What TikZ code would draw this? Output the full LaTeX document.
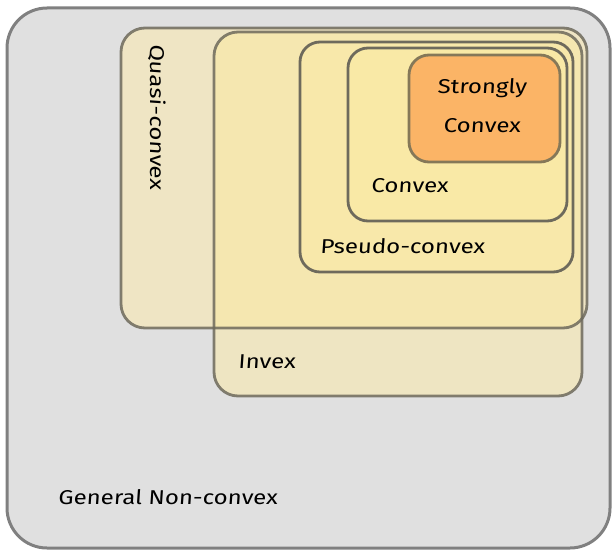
\documentclass[tikz,border=0pt]{standalone}
\usepackage{fontspec}
\setmainfont{Fira Sans}
\newfontfamily\handfont[FakeStretch=1.2, FakeSlant=0.07]{Fira Sans}
\definecolor{outerfill}{HTML}{E0E0E0}
\definecolor{outerline}{HTML}{808080}
\definecolor{quasifill}{HTML}{EFE5C4}
\definecolor{invexfill}{HTML}{EEE5C2}
\definecolor{overlapfill}{HTML}{F5E7B0}
\definecolor{pseudofill}{HTML}{F8E8AA}
\definecolor{convexfill}{HTML}{F9E9A6}
\definecolor{strongfill}{HTML}{FBB466}
\definecolor{boxline}{HTML}{6E6A5C}
\definecolor{strongline}{HTML}{857858}
\tikzset{
  setbox/.style={draw=boxline, line width=2.8pt},
  lbl/.style={font=\handfont\fontsize{20}{24}\selectfont, text=black, inner sep=0pt},
}
\begin{document}
\begin{tikzpicture}[x=1pt,y=-1pt]
\useasboundingbox (0,0) rectangle (612,551);
% outer
\draw[fill=outerfill, draw=outerline, line width=3pt, rounded corners=40pt] (7,8) rectangle (610,548);
% fills of quasi and invex
\fill[quasifill, rounded corners=24pt] (121,28) rectangle (587,328);
\fill[invexfill, rounded corners=24pt] (214,32) rectangle (582,396);
\begin{scope}
  \clip[rounded corners=24pt] (121,28) rectangle (587,328);
  \fill[overlapfill, rounded corners=24pt] (214,32) rectangle (582,396);
\end{scope}
\draw[setbox, draw opacity=0.85, rounded corners=24pt] (121,28) rectangle (587,328);
\draw[setbox, draw opacity=0.85, rounded corners=24pt] (214,32) rectangle (582,396);
% pseudo
\draw[setbox, fill=pseudofill, rounded corners=20pt] (300,42) rectangle (573,272);
% convex
\draw[setbox, fill=convexfill, rounded corners=20pt] (348,48) rectangle (567,221);
% strongly
\draw[draw=strongline, line width=2.8pt, fill=strongfill, rounded corners=20pt] (409,55) rectangle (560,162);
% labels
\node[lbl] (strong1) at (482,88) {Strongly};
\node[lbl] (strong2) at (482,126) {Convex};
\node[lbl, anchor=west] (convex) at (371,186) {Convex};
\node[lbl, anchor=west] (pseudo) at (320,246) {Pseudo-convex};
\node[lbl, anchor=west] (invex) at (238,362) {Invex};
\node[lbl, anchor=west] (general) at (58,497) {General Non-convex};
\node[lbl, rotate=-90, anchor=west] (quasi) at (157,44) {Quasi-convex};
\end{tikzpicture}
\end{document}
